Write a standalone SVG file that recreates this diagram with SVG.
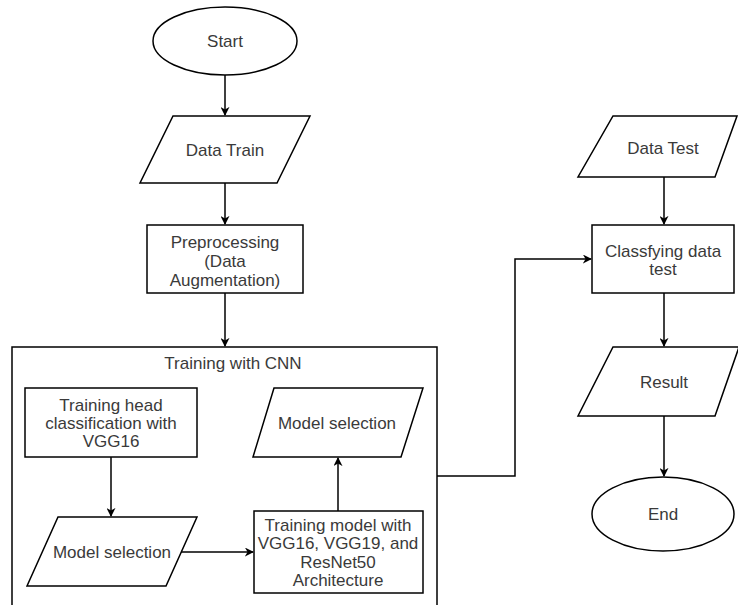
<svg xmlns="http://www.w3.org/2000/svg" width="738" height="605" viewBox="0 0 738 605">
<defs>
<marker id="arr" viewBox="0 0 10 10" refX="9" refY="5" markerWidth="9" markerHeight="9" orient="auto" markerUnits="userSpaceOnUse">
<path d="M0,0 L10,5 L0,10 L3,5 Z" fill="#000"/>
</marker>
<style>
.s{fill:#fff;stroke:#000;stroke-width:1.5}
.t{font-family:"Liberation Sans",Arial,sans-serif;font-size:17px;fill:#3a3a3a;text-anchor:middle;dominant-baseline:central}
.c{fill:none;stroke:#000;stroke-width:1.5;marker-end:url(#arr)}
</style>
</defs>
<rect width="738" height="605" fill="#fff"/>
<g id="container">
<path class="s" d="M12,605 V347 H437 V605"/>
<text class="t" x="233" y="363">Training with CNN</text>
</g>
<g id="connectors">
<path class="c" d="M225,75 V115"/>
<path class="c" d="M225,183 V224"/>
<path class="c" d="M225,293 V346"/>
<path class="c" d="M111,457 V516"/>
<path class="c" d="M181,552 H253"/>
<path class="c" d="M338,511 V458"/>
<path class="c" d="M437,476 H515 V259 H591"/>
<path class="c" d="M664,177 V224"/>
<path class="c" d="M664,293 V346"/>
<path class="c" d="M664,416 V476"/>
</g>
<g id="start">
<ellipse class="s" cx="225" cy="41" rx="72" ry="34"/>
<text class="t" x="225" y="41">Start</text>
</g>
<g id="data-train">
<path class="s" d="M173,116 H310 L277,183 H140 Z"/>
<text class="t" x="225" y="150">Data Train</text>
</g>
<g id="preprocessing">
<rect class="s" x="147" y="225" width="156" height="68"/>
<text class="t" x="225" y="242">Preprocessing</text>
<text class="t" x="225" y="261">(Data</text>
<text class="t" x="225" y="280">Augmentation)</text>
</g>
<g id="training-head">
<rect class="s" x="25" y="388" width="172" height="69"/>
<text class="t" x="111" y="405">Training head</text>
<text class="t" x="111" y="423">classification with</text>
<text class="t" x="111" y="441">VGG16</text>
</g>
<g id="model-selection-1">
<path class="s" d="M58,517 H197 L166,586 H27 Z"/>
<text class="t" x="112" y="552">Model selection</text>
</g>
<g id="training-model">
<rect class="s" x="254" y="511" width="169" height="82"/>
<text class="t" x="338" y="525">Training model with</text>
<text class="t" x="338" y="543">VGG16, VGG19, and</text>
<text class="t" x="338" y="562">ResNet50</text>
<text class="t" x="338" y="580">Architecture</text>
</g>
<g id="model-selection-2">
<path class="s" d="M274,388 H423 L401,457 H253 Z"/>
<text class="t" x="337" y="423">Model selection</text>
</g>
<g id="data-test">
<path class="s" d="M613,116 H737 L715,177 H578 Z"/>
<text class="t" x="663" y="148">Data Test</text>
</g>
<g id="classifying">
<rect class="s" x="592" y="225" width="142" height="68"/>
<text class="t" x="663" y="251">Classfying data</text>
<text class="t" x="663" y="269">test</text>
</g>
<g id="result">
<path class="s" d="M613,347 H739 L715,416 H578 Z"/>
<text class="t" x="664" y="382">Result</text>
</g>
<g id="end">
<ellipse class="s" cx="663" cy="514" rx="71" ry="37"/>
<text class="t" x="663" y="514">End</text>
</g>
</svg>
